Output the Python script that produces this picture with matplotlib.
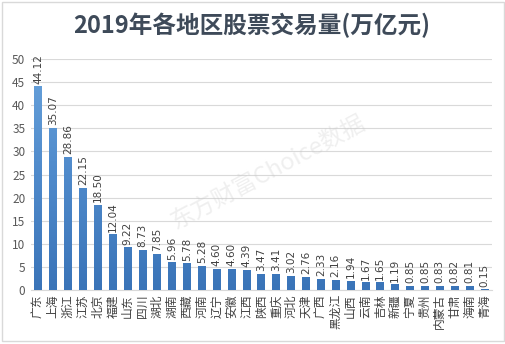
import numpy as np
import matplotlib.pyplot as plt
from matplotlib.colors import LinearSegmentedColormap

plt.rcParams['font.family'] = ['Noto Sans CJK SC', 'DejaVu Sans']

# 各地区股票交易量 (万亿元)
regions = ['广东', '上海', '浙江', '江苏', '北京', '福建', '山东', '四川', '湖北', '湖南',
           '西藏', '河南', '辽宁', '安徽', '江西', '陕西', '重庆', '河北', '天津', '广西',
           '黑龙江', '山西', '云南', '吉林', '新疆', '宁夏', '贵州', '内蒙古', '甘肃', '海南', '青海']
volumes = [44.12, 35.07, 28.86, 22.15, 18.50, 12.04, 9.22, 8.73, 7.85, 5.96,
           5.78, 5.28, 4.60, 4.60, 4.39, 3.47, 3.41, 3.02, 2.76, 2.33,
           2.16, 1.94, 1.67, 1.65, 1.19, 0.85, 0.85, 0.83, 0.82, 0.81, 0.15]
yticks = list(range(0, 55, 5))

fig = plt.figure(figsize=(5.06, 3.44), dpi=100)
fig.patch.set_facecolor('white')

# 外框
frame = plt.Rectangle((0.003, 0.01), 0.994, 0.985, transform=fig.transFigure,
                      fill=False, edgecolor='#d9d9d9', linewidth=1)
fig.add_artist(frame)

ax = fig.add_axes([0.061, 0.157, 0.911, 0.671])
x = np.arange(len(regions))
bars = ax.bar(x, volumes, width=0.52, color='none', zorder=3)

# 渐变填充
cmap = LinearSegmentedColormap.from_list('bar', ['#3a74b8', '#4f8acb', '#69a3dc'])
grad = np.linspace(0, 1, 256).reshape(-1, 1)
for b in bars:
    x0, w, h = b.get_x(), b.get_width(), b.get_height()
    im = ax.imshow(grad, cmap=cmap, origin='lower', aspect='auto',
                   extent=(x0, x0 + w, 0, 50), zorder=3)
    im.set_clip_path(b)

for xi, v in zip(x, volumes):
    ax.text(xi, v + 0.6, f'{v:.2f}', rotation=90, ha='center', va='bottom',
            fontsize=7.5, color='#404040', family='DejaVu Sans')

ax.set_xlim(-0.5, len(regions) - 0.5)
ax.set_ylim(0, 50)
ax.set_yticks(yticks)
ax.tick_params(axis='y', length=0, labelsize=8.5, labelcolor='#595959', pad=4)
ax.set_xticks(x)
ax.set_xticklabels(regions, rotation=90, fontsize=8.5, color='#404040')
ax.tick_params(axis='x', length=0, pad=3)
ax.grid(axis='y', color='#d9d9d9', linewidth=0.8, zorder=0)
for s in ['top', 'right', 'left']:
    ax.spines[s].set_visible(False)
ax.spines['bottom'].set_color('#d9d9d9')

fig.text(0.497, 0.925, '2019年各地区股票交易量(万亿元)', ha='center', va='center',
         fontsize=17, fontweight='bold', color='#3e4a59')

# 水印
fig.text(0.53, 0.5, '东方财富Choice数据', ha='center', va='center', rotation=28,
         fontsize=17, color='#c8c8c8', alpha=0.28)

fig.savefig('out.png', dpi=100)
